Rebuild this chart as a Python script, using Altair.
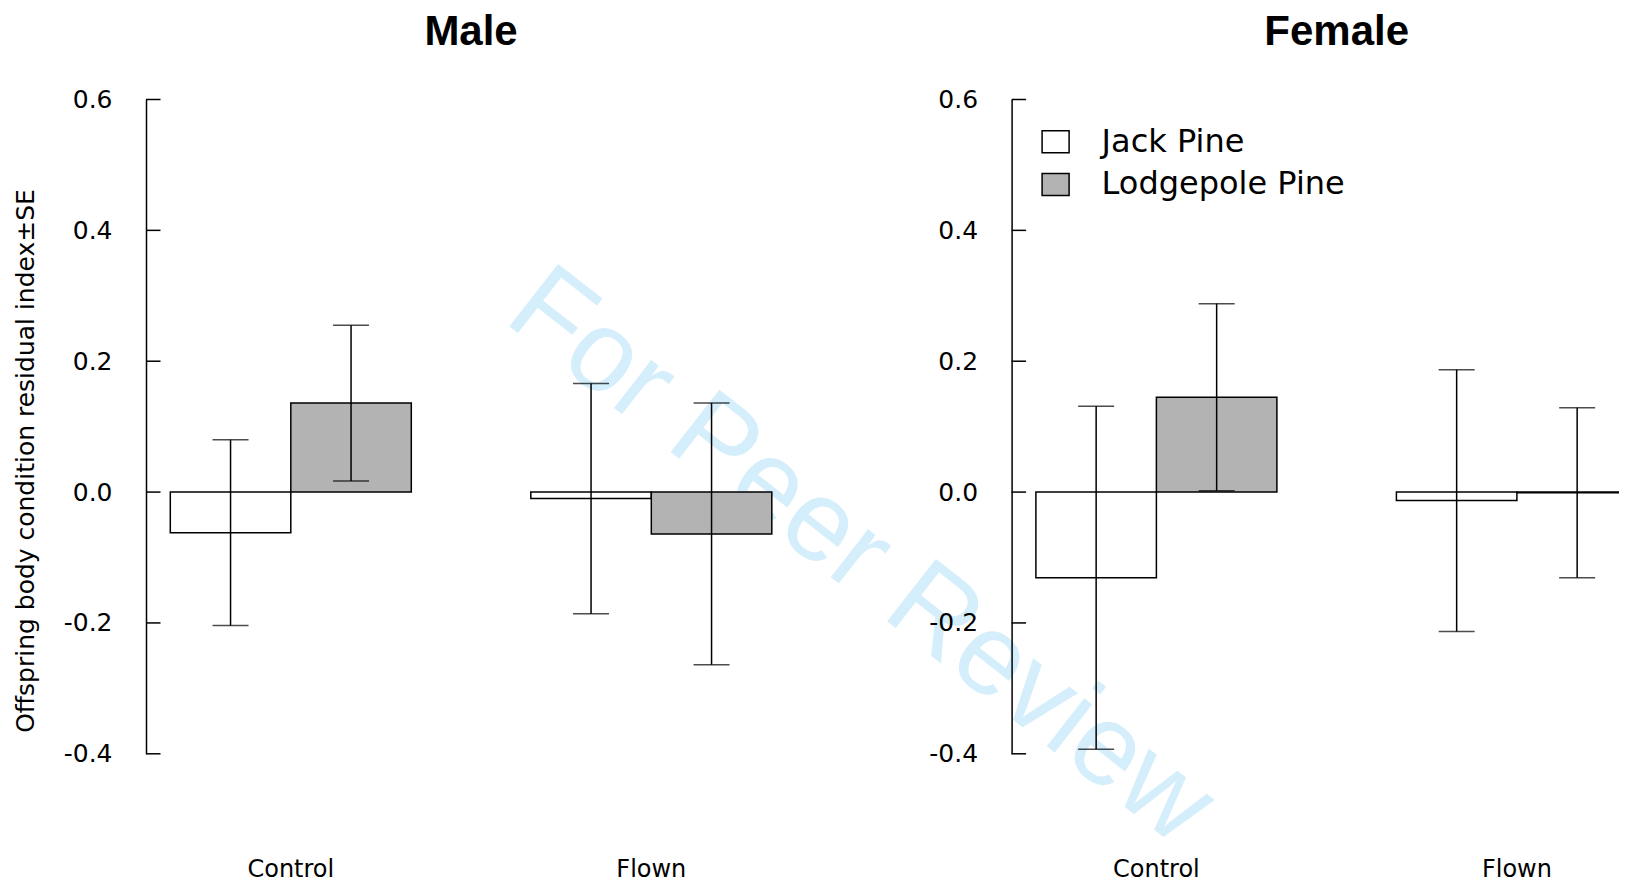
import altair as alt
import pandas as pd

# ---- data ----
treatments = ["Control", "Flown"]
species = ["Jack Pine", "Lodgepole Pine"]
# order: Control-Jack, Control-Lodgepole, Flown-Jack, Flown-Lodgepole
male_means = [-0.062, 0.136, -0.010, -0.064]
male_se = [0.142, 0.119, 0.176, 0.200]
female_means = [-0.131, 0.145, -0.013, -0.001]
female_se = [0.262, 0.143, 0.200, 0.130]
y_ticks = [-0.4, -0.2, 0.0, 0.2, 0.4, 0.6]
y_title = "Offspring body condition residual index±SE"
watermark = ["For Peer Review"]

FONT = "DejaVu Sans"
TITLE_FONT = "Liberation Sans"
PLOT_W = 650.1
PLOT_H = 654.3
LW = 1.5


def make_df(means, se):
    rows = []
    i = 0
    for t in treatments:
        for s in species:
            rows.append({"treatment": t, "species": s, "mean": means[i], "se": se[i]})
            i += 1
    df = pd.DataFrame(rows)
    df["lo"] = df["mean"] - df["se"]
    df["hi"] = df["mean"] + df["se"]
    return df


label_expr = "datum.value < 0 ? '-' + format(abs(datum.value), '.1f') : format(datum.value, '.1f')"


def panel(name, means, se, is_male):
    df = make_df(means, se)
    x = alt.X(
        "treatment:N",
        sort=treatments,
        scale=alt.Scale(domain=treatments, paddingInner=0.3315, paddingOuter=0.0674),
        axis=alt.Axis(
            title=None, domain=False, ticks=False, tickSize=0, labelPadding=104,
            labelFont=FONT, labelFontSize=24, labelColor="black", labelAngle=0,
        ),
    )
    xo = alt.XOffset("species:N", sort=species,
                     scale=alt.Scale(domain=species, paddingInner=0, paddingOuter=0))
    yscale = alt.Scale(domain=[-0.4, 0.6], nice=False, zero=False)
    axis_kwargs = dict(
        values=y_ticks, labelExpr=label_expr, ticks=False, tickSize=0,
        labelPadding=34, labelFont=FONT, labelFontSize=25, labelColor="black",
        domain=True, domainColor="black", domainWidth=LW, grid=False,
    )
    if is_male:
        axis_kwargs.update(
            title=y_title, titleFont=FONT, titleFontSize=25, titleFontWeight="normal",
            titleColor="black", titleAngle=270, titleX=-112.8, titleY=361,
            titleAlign="center", titleBaseline="alphabetic",
        )
    else:
        axis_kwargs.update(title=None)
    yaxis = alt.Axis(**axis_kwargs)

    if is_male:
        legend = None
    else:
        legend = alt.Legend(
            title=None, orient="none", legendX=28, legendY=26.3, direction="vertical",
            symbolType="M-1,-0.815L1,-0.815L1,0.815L-1,0.815Z", symbolSize=729,
            symbolStrokeColor="black", symbolStrokeWidth=LW,
            labelFont=FONT, labelFontSize=32, labelColor="black", labelLimit=0,
            labelOffset=30, rowPadding=10.6, padding=0, symbolOffset=0,
        )
    fill = alt.Fill("species:N", sort=species,
                    scale=alt.Scale(domain=species, range=["#ffffff", "#b3b3b3"]),
                    legend=legend)

    base = alt.Chart(df)
    bars = base.mark_bar(stroke="black", strokeWidth=LW).encode(
        x=x, xOffset=xo, y=alt.Y("mean:Q", scale=yscale, axis=yaxis),
        y2=alt.datum(0), fill=fill)
    err = base.mark_rule(color="black", strokeWidth=LW).encode(
        x=x, xOffset=xo, y=alt.Y("lo:Q", scale=yscale, axis=yaxis), y2="hi:Q")
    cap_lo = base.mark_tick(color="black", thickness=LW, size=36, orient="horizontal").encode(
        x=x, xOffset=xo, y=alt.Y("lo:Q", scale=yscale, axis=yaxis))
    cap_hi = base.mark_tick(color="black", thickness=LW, size=36, orient="horizontal").encode(
        x=x, xOffset=xo, y=alt.Y("hi:Q", scale=yscale, axis=yaxis))
    ticks = alt.Chart(pd.DataFrame({"v": y_ticks})).mark_rule(color="black", strokeWidth=LW).encode(
        y=alt.Y("v:Q", scale=yscale, axis=yaxis), x=alt.value(0), x2=alt.value(14.5))

    layers = []
    if is_male:
        wm = alt.Chart(pd.DataFrame({"t": watermark})).mark_text(
            font=TITLE_FONT, fontSize=115, color="#d4eefb", angle=38,
            align="center", baseline="middle",
        ).encode(text="t:N", x=alt.value(715), y=alt.value(457))
        layers.append(wm)
    layers += [bars, err, cap_lo, cap_hi, ticks]

    title = alt.Title(text=name, font=TITLE_FONT, fontSize=42, fontWeight="bold",
                      color="black", anchor="middle", baseline="alphabetic", offset=0)
    return alt.layer(*layers).properties(
        width=PLOT_W, height=PLOT_H, title=title,
        view=alt.ViewBackground(stroke="transparent", strokeWidth=0),
    )


male = panel("Male", male_means, male_se, True)
female = panel("Female", female_means, female_se, False)

chart = alt.hconcat(male, female, spacing=214.6, bounds="flush").resolve_scale(
    fill="independent"
).resolve_legend(fill="independent").properties(
    padding={"left": 5, "top": 3.5, "right": -43, "bottom": 0}
).configure_view(stroke="transparent", strokeWidth=0).configure(background="white")

chart.save("out.html", embed_options={"renderer": "svg", "actions": False})
